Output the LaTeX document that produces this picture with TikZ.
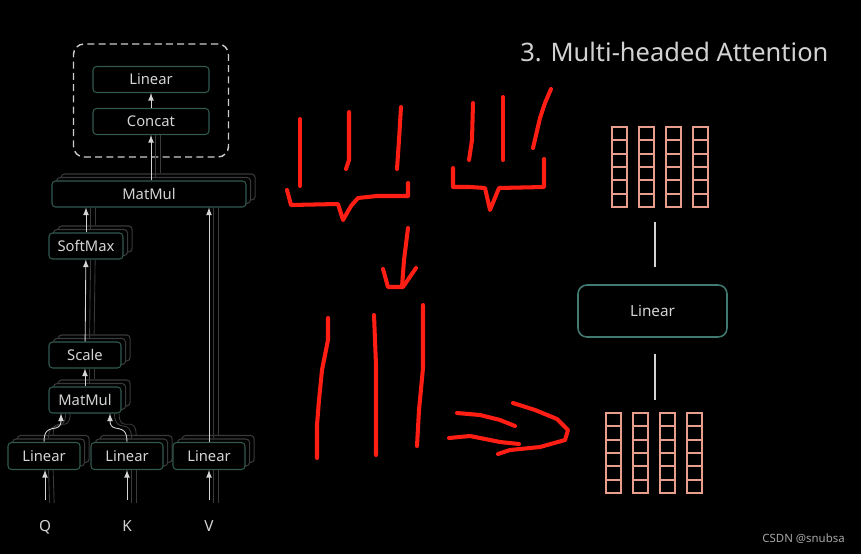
\documentclass[tikz,border=0pt]{standalone}
\usepackage{fontspec}
\setsansfont{Noto Sans}
\usepackage{xcolor}
\usetikzlibrary{arrows,shadows,fit,calc}
\definecolor{boxteal}{RGB}{48,90,80}
\definecolor{boxtealR}{RGB}{64,122,112}
\definecolor{labelgray}{RGB}{212,212,212}
\definecolor{ghostgray}{RGB}{58,58,58}
\definecolor{dashgray}{RGB}{205,205,205}
\definecolor{penred}{RGB}{255,30,20}
\definecolor{cellpink}{RGB}{232,158,140}
\tikzset{
	blk/.style={
			draw=boxteal, fill=black, rounded corners=2pt, line width=0.6pt,
			text=labelgray, font=\sffamily\fontsize{8.4}{9}\selectfont,
			minimum height=0.52cm, inner sep=0pt
		},
	stack/.style={
			blk,
			copy shadow={shadow xshift=5.2pt, shadow yshift=4pt, draw=ghostgray, fill=black},
			copy shadow={shadow xshift=2.6pt, shadow yshift=2pt, draw=ghostgray, fill=black}
		},
	flow/.style={-latex, draw=labelgray, line width=0.5pt},
	ghost/.style={draw=ghostgray, line width=0.5pt},
	link/.style={draw=labelgray, line width=0.8pt},
	pen/.style={draw=penred, line width=2.3pt, line cap=round, line join=round},
	cell/.style={draw=cellpink, line width=1pt}
}

\begin{document}
\begin{tikzpicture}[x=0.02cm, y=-0.02cm]
		\fill[black] (0, 0) rectangle (861, 554);
		\useasboundingbox (0, 0) rectangle (861, 554);

		\node[blk, minimum width=2.32cm] (linTop) at (151, 79.5) {Linear};
		\node[blk, minimum width=2.32cm] (concat) at (151, 121.5) {Concat};
		\node[draw=dashgray, dashed, dash pattern=on 4pt off 2.4pt, line width=0.8pt, rounded corners=6pt,
			inner xsep=0.38cm, inner ysep=0.44cm, fit=(linTop)(concat)] (head) {};

		\node[stack, minimum width=3.88cm] (matmulBig) at (149, 194) {MatMul};
		\node[stack, minimum width=1.48cm] (softmax) at (86, 246) {SoftMax};
		\node[stack, minimum width=1.44cm] (scale) at (85, 355) {Scale};
		\node[stack, minimum width=1.44cm] (matmulSmall) at (85, 400) {MatMul};
		\node[stack, minimum width=1.44cm, minimum height=0.54cm] (linQ) at (44, 456) {Linear};
		\node[stack, minimum width=1.44cm, minimum height=0.54cm] (linK) at (127, 456) {Linear};
		\node[stack, minimum width=1.44cm, minimum height=0.54cm] (linV) at (209, 456) {Linear};

		\node[text=labelgray, font=\sffamily\fontsize{8.7}{10}\selectfont, anchor=base] (q) at (45, 531.5) {Q};
		\node[text=labelgray, font=\sffamily\fontsize{8.7}{10}\selectfont, anchor=base] (k) at (127, 531.5) {K};
		\node[text=labelgray, font=\sffamily\fontsize{8.7}{10}\selectfont, anchor=base] (v) at (209, 531.5) {V};

		\foreach \s/\t in {2.6pt/2pt, 5.2pt/4pt} {
				\draw[ghost] ([xshift=\s]q.north |- 0, 503) -- ([xshift=\s]linQ.south);
				\draw[ghost] ([xshift=\s]k.north |- 0, 503) -- ([xshift=\s]linK.south);
				\draw[ghost] ([xshift=\s]v.north |- 0, 503) -- ([xshift=\s]linV.south);
				\draw[ghost] ([shift={(\s,\t)}]linQ.north) .. controls +(0, -22) and +(0, 22) .. ([xshift=\s-0.48cm]matmulSmall.south);
				\draw[ghost] ([shift={(\s,\t)}]linK.north) .. controls +(0, -22) and +(0, 22) .. ([xshift=\s+0.5cm]matmulSmall.south);
				\draw[ghost] ([shift={(\s,\t)}]matmulSmall.north) -- ([xshift=\s]scale.south);
				\draw[ghost] ([shift={(\s,\t)}]scale.north) -- ([xshift=\s]softmax.south);
				\draw[ghost] ([shift={(\s,\t)}]softmax.north) -- ([xshift=\s]softmax.north |- matmulBig.south);
				\draw[ghost] ([shift={(\s,\t)}]linV.north) -- ([xshift=\s]linV.north |- matmulBig.south);
				\draw[ghost] ([shift={(\s,\t)}]matmulBig.north -| concat.south) -- ([xshift=\s]concat.south);
			}

		\draw[flow, shorten <=8pt] (q.north) -- (q.north |- linQ.south);
		\draw[flow, shorten <=8pt] (k.north) -- (k.north |- linK.south);
		\draw[flow, shorten <=8pt] (v.north) -- (v.north |- linV.south);
		\draw[flow] (linQ.north) .. controls +(0, -22) and +(0, 22) .. ([xshift=-0.48cm]matmulSmall.south);
		\draw[flow] (linK.north) .. controls +(0, -22) and +(0, 22) .. ([xshift=0.5cm]matmulSmall.south);
		\draw[flow] (matmulSmall) -- (scale);
		\draw[flow] (scale) -- (softmax);
		\draw[flow] (softmax.north) -- (softmax.north |- matmulBig.south);
		\draw[flow] (linV.north) -- (linV.north |- matmulBig.south);
		\draw[flow] (matmulBig.north -| concat.south) -- (concat.south);
		\draw[flow] (concat) -- (linTop);

		\node[text=labelgray!105, font=\sffamily\fontsize{14.5}{17}\selectfont, anchor=base west, inner sep=0pt] (title) at (520, 62) {3. Multi-headed Attention};

		\foreach \i in {0,...,3}
		\foreach \j in {0,...,5} {
				\draw[cell] ({612+27*\i}, {127+13.33*\j}) rectangle ++(15, 13.33);
				\draw[cell] ({606+27*\i}, {413+13.33*\j}) rectangle ++(15, 13.33);
			}

		\node[draw=boxtealR, fill=black, rounded corners=5pt, line width=0.9pt, text=labelgray,
			font=\sffamily\fontsize{8.7}{10}\selectfont, minimum width=2.98cm, minimum height=1.04cm] (linR) at (652.5, 311) {Linear};
		\coordinate (topTail) at (655, 222);
		\coordinate (botTail) at (655, 400);
		\draw[link, shorten >=9.6pt] (topTail) -- (topTail |- linR.north);
		\draw[link, shorten <=9pt] (botTail |- linR.south) -- (botTail);

		\draw[pen] (300, 119) -- (300, 186);
		\draw[pen] (349, 112) -- (349, 160) -- (346, 169);
		\draw[pen] (401, 107) -- (399, 140) -- (397, 169);
		\draw[pen] (287, 190) -- (291, 205) -- (338, 204) -- (343, 220) -- (351, 206) -- (358, 198) -- (377, 196) -- (408, 196) -- (408, 183);
		\draw[pen] (473, 103) -- (472, 140) -- (469, 160);
		\draw[pen] (503, 97) -- (503, 160);
		\draw[pen] (551, 89) -- (545, 103) -- (540, 118) -- (533, 148);
		\draw[pen] (453, 168) -- (453, 187) -- (470, 187) -- (485, 188) -- (490, 210) -- (499, 188) -- (544, 187) -- (544, 159);
		\draw[pen] (408, 228) -- (404, 260) -- (402, 287);
		\draw[pen] (383, 269) -- (388, 287) -- (403, 287) -- (416, 268);

		\draw[pen] (328, 318) -- (328, 340) -- (322, 370) -- (319, 400) -- (317, 425) -- (317, 458);
		\draw[pen] (374, 315) -- (376, 365) -- (376, 455);
		\draw[pen] (423, 305) -- (423, 368) -- (419, 410) -- (417, 446);
		\draw[pen] (457, 413) -- (480, 415) -- (500, 420) -- (515, 426);
		\draw[pen] (449, 438) -- (470, 436) -- (500, 442) -- (519, 444);
		\draw[pen] (513, 403) -- (535, 410) -- (557, 419) -- (568, 430) -- (565, 440) -- (540, 447) -- (510, 450) -- (498, 454);

		\node[text=gray!70, font=\sffamily\fontsize{6.5}{8}\selectfont, anchor=base east, inner sep=0pt] (credit) at (845, 542) {CSDN @snubsa};
\end{tikzpicture}
\end{document}
